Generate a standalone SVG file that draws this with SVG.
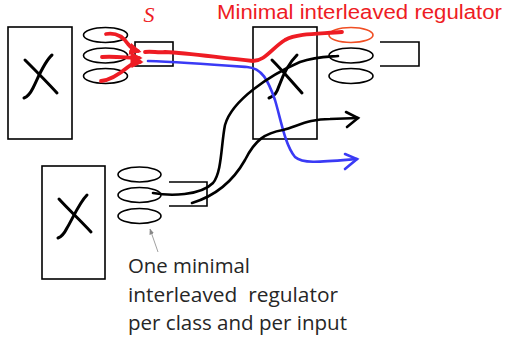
<svg xmlns="http://www.w3.org/2000/svg" width="505" height="345" viewBox="0 0 505 345">
<style>
.box{fill:none;stroke:#000;stroke-width:1.6}
.ell{fill:none;stroke:#000;stroke-width:1.6}
.brk{fill:none;stroke:#000;stroke-width:1.6}
.x{fill:none;stroke:#000;stroke-width:3;stroke-linecap:round}
.blk{fill:none;stroke:#000;stroke-width:2.6;stroke-linecap:round}
.red{fill:none;stroke:#ee1c24;stroke-width:3.8;stroke-linecap:round}
.blue{fill:none;stroke:#3a3af5;stroke-width:2.6;stroke-linecap:round}
.lbl{font-family:"Open Sans","Liberation Sans",sans-serif;font-size:20px;fill:#262626}
</style>
<defs>
<marker id="rh" viewBox="0 0 10 10" refX="7" refY="5" markerWidth="3.2" markerHeight="3.2" orient="auto">
<path d="M0,0 L10,5 L0,10 z" fill="#ee1c24"/>
</marker>
<marker id="gh" viewBox="0 0 10 10" refX="9" refY="5" markerWidth="6" markerHeight="6" orient="auto" markerUnits="userSpaceOnUse">
<path d="M0,1 L10,5 L0,9 z" fill="#888"/>
</marker>
</defs>
<rect width="505" height="345" fill="#fff"/>

<g id="node-left">
<rect class="box" x="8" y="27" width="64" height="112"/>
<path class="x" d="M25,60 C35,70 47,82 57,93"/>
<path class="x" d="M52,55 C44,62 38,78 33,88 C30,94 27,97 24,98"/>
<ellipse class="ell" cx="105.5" cy="35" rx="22" ry="7.5"/>
<ellipse class="ell" cx="105.5" cy="55.5" rx="22" ry="7.5"/>
<ellipse class="ell" cx="105.5" cy="76" rx="22" ry="7.5"/>
<rect class="brk" x="135" y="42" width="38" height="24"/>
</g>

<g id="node-middle">
<rect class="box" x="253" y="27" width="64" height="112"/>
<path class="x" d="M272,60 C282,70 292,82 302,93"/>
<path class="x" d="M297,55 C290,62 283,75 279,86 C277,92 275,96 269,98"/>
<ellipse cx="351" cy="35" rx="22" ry="7.5" fill="none" stroke="#f04e23" stroke-width="1.6"/>
<ellipse class="ell" cx="351" cy="55.5" rx="22" ry="7.5"/>
<ellipse class="ell" cx="351" cy="76" rx="22" ry="7.5"/>
<path class="brk" d="M380,42 H419 V66 H380"/>
</g>

<g id="node-bottom">
<rect class="box" x="42" y="166" width="63" height="113"/>
<path class="x" d="M59,199 C69,210 81,221 91,232"/>
<path class="x" d="M87,195 C79,203 72,220 67,228 C64,234 61,237 58,238"/>
<ellipse class="ell" cx="139.5" cy="174.5" rx="21.5" ry="7.5"/>
<ellipse class="ell" cx="139.5" cy="195" rx="21.5" ry="7.5"/>
<ellipse class="ell" cx="139.5" cy="216" rx="21.5" ry="7.5"/>
<path class="brk" d="M169,182 H207 V206 H169"/>
</g>

<g id="connectors">
<path class="red" marker-end="url(#rh)" d="M106,34 C118,32 124,38 128,44 C132,49 134,50 138,51"/>
<path class="red" marker-end="url(#rh)" d="M102,57 C115,56 128,58 139,58"/>
<path class="red" marker-end="url(#rh)" d="M101,81 C112,80 122,72 128,67 C132,64 136,62 140,62"/>
<path class="red" d="M145,52 C152,51 158,53 165,52 C190,53 220,58 253,61 C265,61 272,48 285,40 C298,33 320,34 342,32"/>
<path class="blue" d="M148,61 C180,62 220,65 247,67 C262,68 268,80 275,100 C281,120 285,145 295,157 C303,164 320,162 357,159"/>
<path class="blue" d="M345,154 L357,159 L345,169"/>
<path class="blk" d="M153,193 C170,196 200,196 213,183 C222,172 221,145 225,125 C232,100 270,75 300,62 C315,57 325,57 338,56"/>
<path class="blk" d="M192,203 C215,196 232,183 245,160 C255,140 265,133 283,130 C300,125 310,119 330,119 L358,118"/>
<path class="blk" d="M346,112 L358,118 L347,127"/>
<line x1="158" y1="252" x2="150" y2="229" stroke="#888" stroke-width="0.8" marker-end="url(#gh)"/>
</g>

<g id="labels">
<text x="149" y="22" text-anchor="middle" font-family="'Liberation Serif',serif" font-style="italic" font-size="22" fill="#ee1c24">S</text>
<text x="217" y="18.5" font-family="'Liberation Sans',sans-serif" font-size="19.5" fill="#ee1c24" textLength="285" lengthAdjust="spacingAndGlyphs">Minimal interleaved regulator</text>
<text class="lbl" x="128" y="273" textLength="122" lengthAdjust="spacingAndGlyphs">One minimal</text>
<text class="lbl" x="128" y="302" xml:space="preserve" textLength="210" lengthAdjust="spacingAndGlyphs">interleaved  regulator</text>
<text class="lbl" x="128" y="330" textLength="219" lengthAdjust="spacingAndGlyphs">per class and per input</text>
</g>
</svg>
